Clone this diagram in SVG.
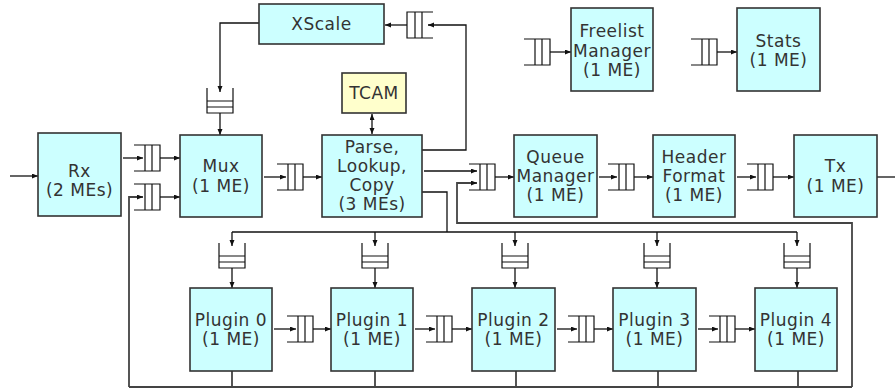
<svg xmlns="http://www.w3.org/2000/svg" width="895" height="390" viewBox="0 0 895 390">
<style>
.box{fill:#ccffff;stroke:#333;stroke-width:1.6}
.tcam{fill:#ffffcc;stroke:#333;stroke-width:1.6}
text{font-family:"DejaVu Sans","Verdana",sans-serif;font-size:17px;fill:#333;text-anchor:middle;letter-spacing:0.5px}
.q{fill:none;stroke:#111;stroke-width:1.2}
.c{fill:none;stroke:#111;stroke-width:1.3}
.loop{fill:none;stroke:#444;stroke-width:1.8}
</style>
<defs>
<marker id="ah" markerUnits="userSpaceOnUse" markerWidth="7" markerHeight="6" refX="6" refY="2.5" orient="auto-start-reverse">
<path d="M0,0 L6,2.5 L0,5 z" fill="#111"/>
</marker>
<path id="qh" d="M0,0 H26 V26 H0 M11,0 V26 M18,0 V26"/>
<path id="qhr" d="M26,0 H0 V26 H26 M8,0 V26 M15,0 V26"/>
<path id="qv" d="M0,0 V25 H26 V0 M0,13 H26 M0,19 H26"/>
</defs>

<g id="connectors">
<path class="c" d="M10,176 H38" marker-end="url(#ah)"/>
<path class="c" d="M123,158 H143" marker-end="url(#ah)"/>
<path class="c" d="M160,158 H180" marker-end="url(#ah)"/>
<path class="c" d="M160,197 H180" marker-end="url(#ah)"/>
<path class="c" d="M264,177 H286" marker-end="url(#ah)"/>
<path class="c" d="M303,177 H322" marker-end="url(#ah)"/>
<path class="c" d="M259,23 H220 V92" marker-end="url(#ah)"/>
<path class="c" d="M220,113 V135" marker-end="url(#ah)"/>
<path class="c" d="M372,114 V134" marker-start="url(#ah)" marker-end="url(#ah)"/>
<path class="c" d="M422,150 H466 V25 H428" marker-end="url(#ah)"/>
<path class="c" d="M407,25 H385" marker-end="url(#ah)"/>
<path class="c" d="M424,171 H477" marker-end="url(#ah)"/>
<path class="c" d="M495,177 H514" marker-end="url(#ah)"/>
<path class="c" d="M599,177 H617" marker-end="url(#ah)"/>
<path class="c" d="M634,177 H653" marker-end="url(#ah)"/>
<path class="c" d="M737,177 H756" marker-end="url(#ah)"/>
<path class="c" d="M773,177 H794" marker-end="url(#ah)"/>
<path class="c" d="M877,177 H895"/>
<path class="c" d="M550,52 H571" marker-end="url(#ah)"/>
<path class="c" d="M717,52 H737" marker-end="url(#ah)"/>
<path class="c" d="M422,192 H447 V232"/>
<path class="c" d="M232,232 H797"/>
<path class="c" d="M232,232 V246" marker-end="url(#ah)"/>
<path class="c" d="M375,232 V246" marker-end="url(#ah)"/>
<path class="c" d="M515,232 V246" marker-end="url(#ah)"/>
<path class="c" d="M657,232 V246" marker-end="url(#ah)"/>
<path class="c" d="M797,232 V246" marker-end="url(#ah)"/>
<path class="c" d="M232,268 V288" marker-end="url(#ah)"/>
<path class="c" d="M375,268 V288" marker-end="url(#ah)"/>
<path class="c" d="M515,268 V288" marker-end="url(#ah)"/>
<path class="c" d="M657,268 V288" marker-end="url(#ah)"/>
<path class="c" d="M797,268 V288" marker-end="url(#ah)"/>
<path class="c" d="M274,329 H296" marker-end="url(#ah)"/>
<path class="c" d="M313,329 H331" marker-end="url(#ah)"/>
<path class="c" d="M415,329 H435" marker-end="url(#ah)"/>
<path class="c" d="M452,329 H472" marker-end="url(#ah)"/>
<path class="c" d="M557,329 H577" marker-end="url(#ah)"/>
<path class="c" d="M594,329 H613" marker-end="url(#ah)"/>
<path class="c" d="M698,329 H718" marker-end="url(#ah)"/>
<path class="c" d="M735,329 H755" marker-end="url(#ah)"/>
<path class="loop" d="M232,371 V387 M375,371 V387 M516,371 V387 M658,371 V387 M798,371 V387"/>
<path class="loop" d="M129,387 H852"/>
<path class="loop" d="M129,387 V197 H143" marker-end="url(#ah)"/>
<path class="loop" d="M852,387 V223 H457 V183 H477" marker-end="url(#ah)"/>
</g>

<g id="queues" class="q">
<use href="#qh" x="134" y="145"/>
<use href="#qh" x="134" y="184"/>
<use href="#qh" x="277" y="164"/>
<use href="#qhr" x="407" y="12"/>
<use href="#qh" x="524" y="39"/>
<use href="#qh" x="691" y="39"/>
<use href="#qh" x="469" y="164"/>
<use href="#qh" x="608" y="164"/>
<use href="#qh" x="747" y="164"/>
<use href="#qh" x="287" y="316"/>
<use href="#qh" x="426" y="316"/>
<use href="#qh" x="568" y="316"/>
<use href="#qh" x="709" y="316"/>
<use href="#qv" x="207" y="88"/>
<use href="#qv" x="219" y="243"/>
<use href="#qv" x="362" y="243"/>
<use href="#qv" x="502" y="243"/>
<use href="#qv" x="644" y="243"/>
<use href="#qv" x="784" y="243"/>
</g>

<g id="rx"><rect class="box" x="38" y="133" width="83" height="83"/><text x="79.5" y="177">Rx</text><text x="79.5" y="196">(2 MEs)</text></g>
<g id="mux"><rect class="box" x="180" y="135" width="82" height="82"/><text x="221" y="172">Mux</text><text x="221" y="192">(1 ME)</text></g>
<g id="parse"><rect class="box" x="322" y="135" width="100" height="82"/><text x="372" y="153">Parse,</text><text x="372" y="172">Lookup,</text><text x="372" y="191">Copy</text><text x="372" y="210">(3 MEs)</text></g>
<g id="tcam"><rect class="tcam" x="342" y="73" width="64" height="40"/><text x="374" y="99">TCAM</text></g>
<g id="xscale"><rect class="box" x="259" y="4" width="125" height="40"/><text x="321.5" y="30">XScale</text></g>
<g id="freelist"><rect class="box" x="571" y="8" width="82" height="83"/><text x="612" y="37">Freelist</text><text x="612" y="57">Manager</text><text x="612" y="76">(1 ME)</text></g>
<g id="stats"><rect class="box" x="737" y="8" width="83" height="83"/><text x="778.5" y="47">Stats</text><text x="778.5" y="66">(1 ME)</text></g>
<g id="qm"><rect class="box" x="514" y="135" width="83" height="82"/><text x="555.5" y="163">Queue</text><text x="555.5" y="182">Manager</text><text x="555.5" y="201">(1 ME)</text></g>
<g id="hf"><rect class="box" x="653" y="135" width="82" height="82"/><text x="694" y="163">Header</text><text x="694" y="182">Format</text><text x="694" y="201">(1 ME)</text></g>
<g id="tx"><rect class="box" x="794" y="135" width="83" height="82"/><text x="835.5" y="172">Tx</text><text x="835.5" y="192">(1 ME)</text></g>
<g id="plugin0"><rect class="box" x="190" y="288" width="82" height="83"/><text x="231" y="326">Plugin 0</text><text x="231" y="345">(1 ME)</text></g>
<g id="plugin1"><rect class="box" x="331" y="288" width="82" height="83"/><text x="372" y="326">Plugin 1</text><text x="372" y="345">(1 ME)</text></g>
<g id="plugin2"><rect class="box" x="472" y="288" width="83" height="83"/><text x="513.5" y="326">Plugin 2</text><text x="513.5" y="345">(1 ME)</text></g>
<g id="plugin3"><rect class="box" x="613" y="288" width="83" height="83"/><text x="654.5" y="326">Plugin 3</text><text x="654.5" y="345">(1 ME)</text></g>
<g id="plugin4"><rect class="box" x="755" y="288" width="82" height="83"/><text x="796" y="326">Plugin 4</text><text x="796" y="345">(1 ME)</text></g>
</svg>
